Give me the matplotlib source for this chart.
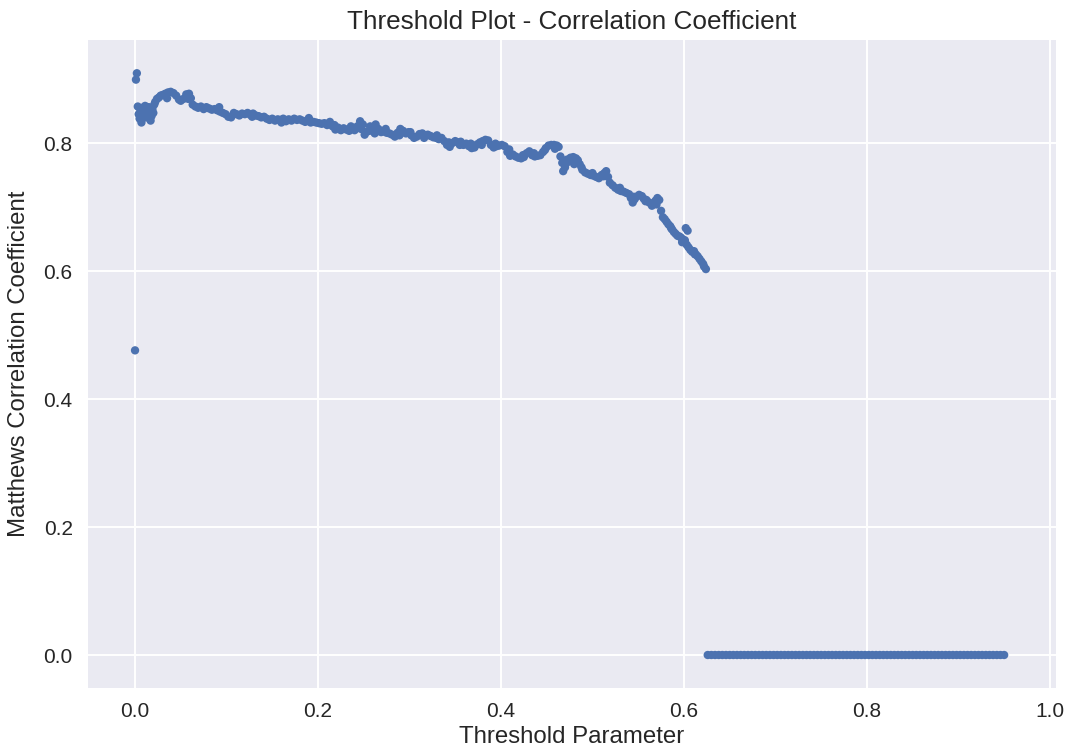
import matplotlib
matplotlib.use("Agg")
import matplotlib.pyplot as plt

# threshold parameter values and matching Matthews correlation coefficients
thresholds = [
    0.000, 0.001, 0.002, 0.003, 0.004, 0.005, 0.006, 0.007, 0.008, 0.009,
    0.010, 0.011, 0.012, 0.013, 0.014, 0.015, 0.016, 0.018, 0.020, 0.021,
    0.022, 0.024, 0.026, 0.028, 0.030, 0.033, 0.036, 0.039, 0.042, 0.045,
    0.048, 0.050, 0.053, 0.056, 0.059, 0.061, 0.063, 0.066, 0.069, 0.072,
    0.075, 0.078, 0.081, 0.084, 0.087, 0.090, 0.093, 0.096, 0.099, 0.102,
    0.105, 0.108, 0.111, 0.114, 0.117, 0.120, 0.123, 0.126, 0.129, 0.132,
    0.135, 0.138, 0.141, 0.144, 0.147, 0.150, 0.153, 0.156, 0.159, 0.162,
    0.165, 0.168, 0.171, 0.174, 0.177, 0.180, 0.183, 0.186, 0.189, 0.192,
    0.195, 0.198, 0.201, 0.204, 0.207, 0.210, 0.213, 0.216, 0.219, 0.222,
    0.225, 0.228, 0.231, 0.234, 0.237, 0.240, 0.243, 0.246, 0.249, 0.251,
    0.254, 0.257, 0.260, 0.263, 0.266, 0.269, 0.272, 0.275, 0.278, 0.281,
    0.284, 0.287, 0.290, 0.293, 0.296, 0.299, 0.302, 0.305, 0.308, 0.311,
    0.314, 0.317, 0.320, 0.323, 0.326, 0.329, 0.332, 0.335, 0.338, 0.341,
    0.344, 0.347, 0.350, 0.353, 0.356, 0.359, 0.362, 0.365, 0.368, 0.371,
    0.374, 0.377, 0.380, 0.383, 0.386, 0.389, 0.392, 0.395, 0.398, 0.401,
    0.404, 0.407, 0.410, 0.413, 0.416, 0.419, 0.422, 0.425, 0.428, 0.431,
    0.434, 0.437, 0.440, 0.443, 0.446, 0.449, 0.452, 0.455, 0.458, 0.461,
    0.463, 0.465, 0.467, 0.468, 0.470, 0.472, 0.474, 0.476, 0.478, 0.480,
    0.482, 0.484, 0.486, 0.489, 0.492, 0.495, 0.498, 0.501, 0.504, 0.507,
    0.510, 0.513, 0.515, 0.517, 0.519, 0.522, 0.525, 0.528, 0.531, 0.534,
    0.537, 0.540, 0.542, 0.544, 0.546, 0.548, 0.551, 0.554, 0.556, 0.559,
    0.562, 0.565, 0.567, 0.569, 0.571, 0.573, 0.575, 0.577, 0.579, 0.581,
    0.583, 0.585, 0.587, 0.589, 0.591, 0.593, 0.595, 0.597, 0.599, 0.601,
    0.602, 0.603, 0.604, 0.605, 0.607, 0.609, 0.611, 0.613, 0.615, 0.617,
    0.619, 0.621, 0.622, 0.624,
    # second pass of points that thicken the noisy band
    0.017, 0.019, 0.035, 0.058, 0.092, 0.128, 0.160, 0.190, 0.218, 0.236,
    0.247, 0.256, 0.262, 0.274, 0.289, 0.301, 0.316, 0.330, 0.343, 0.355,
    0.367, 0.379, 0.394, 0.409, 0.424, 0.436, 0.448, 0.459, 0.471, 0.479,
    0.488, 0.500, 0.512, 0.530, 0.545, 0.558, 0.570, 0.586, 0.598, 0.612,
]
mcc = [
    0.476, 0.899, 0.909, 0.857, 0.845, 0.838, 0.851, 0.832, 0.855, 0.843,
    0.848, 0.858, 0.840, 0.852, 0.846, 0.856, 0.850, 0.842, 0.847, 0.860,
    0.864, 0.869, 0.871, 0.874, 0.875, 0.877, 0.879, 0.880, 0.878, 0.874,
    0.868, 0.866, 0.869, 0.876, 0.877, 0.870, 0.860, 0.857, 0.855, 0.857,
    0.853, 0.856, 0.854, 0.852, 0.853, 0.851, 0.849, 0.847, 0.845, 0.841,
    0.840, 0.847, 0.845, 0.843, 0.846, 0.845, 0.847, 0.844, 0.846, 0.843,
    0.842, 0.840, 0.841, 0.838, 0.836, 0.838, 0.835, 0.837, 0.836, 0.838,
    0.834, 0.837, 0.835, 0.838, 0.836, 0.837, 0.835, 0.833, 0.835, 0.832,
    0.833, 0.832, 0.831, 0.830, 0.831, 0.828, 0.833, 0.826, 0.821, 0.824,
    0.820, 0.823, 0.821, 0.819, 0.822, 0.820, 0.826, 0.834, 0.829, 0.813,
    0.818, 0.826, 0.821, 0.829, 0.822, 0.817, 0.818, 0.816, 0.815, 0.813,
    0.810, 0.816, 0.822, 0.819, 0.815, 0.817, 0.812, 0.808, 0.810, 0.814,
    0.815, 0.812, 0.813, 0.811, 0.809, 0.808, 0.806, 0.808, 0.803, 0.797,
    0.794, 0.800, 0.803, 0.801, 0.802, 0.797, 0.799, 0.795, 0.792, 0.793,
    0.798, 0.801, 0.803, 0.805, 0.804, 0.797, 0.793, 0.795, 0.796, 0.797,
    0.795, 0.786, 0.780, 0.782, 0.779, 0.777, 0.776, 0.778, 0.784, 0.787,
    0.781, 0.779, 0.780, 0.781, 0.786, 0.792, 0.796, 0.797, 0.797, 0.796,
    0.794, 0.779, 0.769, 0.756, 0.762, 0.774, 0.771, 0.777, 0.772, 0.767,
    0.776, 0.773, 0.767, 0.758, 0.754, 0.752, 0.750, 0.749, 0.747, 0.745,
    0.750, 0.753, 0.756, 0.747, 0.738, 0.734, 0.730, 0.727, 0.725, 0.724,
    0.722, 0.720, 0.714, 0.707, 0.712, 0.716, 0.719, 0.717, 0.713, 0.711,
    0.707, 0.702, 0.706, 0.710, 0.714, 0.711, 0.694, 0.684, 0.681, 0.677,
    0.673, 0.670, 0.665, 0.661, 0.658, 0.655, 0.654, 0.652, 0.649, 0.648,
    0.667, 0.641, 0.663, 0.637, 0.633, 0.630, 0.631, 0.626, 0.623, 0.619,
    0.615, 0.611, 0.607, 0.603,
    0.835, 0.853, 0.870, 0.869, 0.856, 0.841, 0.832, 0.839, 0.828, 0.826,
    0.822, 0.819, 0.815, 0.822, 0.812, 0.817, 0.808, 0.812, 0.801, 0.797,
    0.799, 0.797, 0.799, 0.790, 0.781, 0.784, 0.789, 0.791, 0.768, 0.778,
    0.762, 0.753, 0.748, 0.730, 0.716, 0.709, 0.704, 0.667, 0.645, 0.626,
]

# above ~0.625 every prediction is the same class, so the coefficient is 0
thresholds_flat = [
    0.626, 0.630, 0.634, 0.638, 0.642, 0.646, 0.650, 0.654, 0.658, 0.662,
    0.666, 0.670, 0.674, 0.678, 0.682, 0.686, 0.690, 0.694, 0.698, 0.702,
    0.706, 0.710, 0.714, 0.718, 0.722, 0.726, 0.730, 0.734, 0.738, 0.742,
    0.746, 0.750, 0.754, 0.758, 0.762, 0.766, 0.770, 0.774, 0.778, 0.782,
    0.786, 0.790, 0.794, 0.798, 0.802, 0.806, 0.810, 0.814, 0.818, 0.822,
    0.826, 0.830, 0.834, 0.838, 0.842, 0.846, 0.850, 0.854, 0.858, 0.862,
    0.866, 0.870, 0.874, 0.878, 0.882, 0.886, 0.890, 0.894, 0.898, 0.902,
    0.906, 0.910, 0.914, 0.918, 0.922, 0.926, 0.930, 0.934, 0.938, 0.942,
    0.946, 0.950,
]
mcc_flat = [
    0.0, 0.0, 0.0, 0.0, 0.0, 0.0, 0.0, 0.0, 0.0, 0.0,
    0.0, 0.0, 0.0, 0.0, 0.0, 0.0, 0.0, 0.0, 0.0, 0.0,
    0.0, 0.0, 0.0, 0.0, 0.0, 0.0, 0.0, 0.0, 0.0, 0.0,
    0.0, 0.0, 0.0, 0.0, 0.0, 0.0, 0.0, 0.0, 0.0, 0.0,
    0.0, 0.0, 0.0, 0.0, 0.0, 0.0, 0.0, 0.0, 0.0, 0.0,
    0.0, 0.0, 0.0, 0.0, 0.0, 0.0, 0.0, 0.0, 0.0, 0.0,
    0.0, 0.0, 0.0, 0.0, 0.0, 0.0, 0.0, 0.0, 0.0, 0.0,
    0.0, 0.0, 0.0, 0.0, 0.0, 0.0, 0.0, 0.0, 0.0, 0.0,
    0.0, 0.0,
]

x_ticks = [0.0, 0.2, 0.4, 0.6, 0.8, 1.0]
y_ticks = [0.0, 0.2, 0.4, 0.6, 0.8]

plt.rcParams['font.family'] = ['Liberation Sans', 'DejaVu Sans']
plt.rcParams['axes.unicode_minus'] = False

fig = plt.figure(figsize=(10.72, 7.54), dpi=100)
ax = fig.add_axes([0.0821, 0.0875, 0.9029, 0.8595])
ax.set_facecolor('#EAEAF2')
for s in ax.spines.values():
    s.set_visible(False)
ax.grid(True, color='white', linewidth=1.4)
ax.set_axisbelow(True)

ax.scatter(thresholds + thresholds_flat, mcc + mcc_flat, s=36,
           color='#4C72B0', edgecolors='none', zorder=3)

ax.set_xticks(x_ticks)
ax.set_yticks(y_ticks)
ax.set_xlim(-0.0514, 1.0066)
ax.set_ylim(-0.0516, 0.961)
ax.tick_params(length=0, labelsize=15, colors='#262626')
ax.tick_params(axis='x', pad=10)
ax.tick_params(axis='y', pad=11)

ax.set_title('Threshold Plot - Correlation Coefficient', fontsize=18.8,
             color='#262626', pad=8)
ax.set_xlabel('Threshold Parameter', fontsize=17.3, color='#262626', labelpad=4)
ax.set_ylabel('Matthews Correlation Coefficient', fontsize=17.3,
              color='#262626', labelpad=10)

fig.savefig('out.png', dpi=100)
plt.close(fig)
